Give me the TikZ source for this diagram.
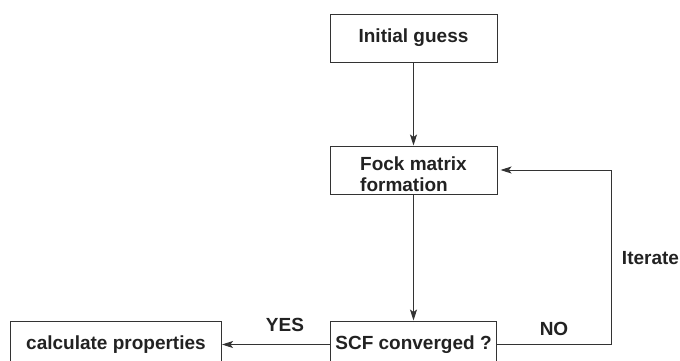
\documentclass[tikz,border=0pt]{standalone}
\usepackage{fontspec}
\setmainfont{Liberation Sans}
\usepackage{xcolor}
\definecolor{lineGray}{HTML}{333333}
\definecolor{textDark}{HTML}{222222}
\usetikzlibrary{arrows.meta, positioning}
\tikzset{
    stepbox/.style={rectangle, draw=lineGray, line width=1pt, minimum height=48pt,
                    inner sep=0pt, text=textDark,
                    font=\fontsize{19}{21}\selectfont\bfseries},
    lbl/.style={text=textDark, inner sep=0pt, font=\fontsize{19}{21}\selectfont\bfseries},
    flow/.style={-{Stealth[length=11pt, width=7pt, inset=2.5pt]}, line width=1pt, lineGray},
}

\begin{document}
\begin{tikzpicture}[x=1pt, y=-1pt]
    \useasboundingbox (0,0) rectangle (680,360);
    \node[stepbox, minimum width=167pt] (init) at (413.5,38) {Initial guess};
    \node[stepbox, minimum width=167pt, below=83pt of init] (fock)
        {\raisebox{-11.5pt}[0pt][0pt]{\begin{tabular}{@{}l@{}}Fock matrix\\formation\end{tabular}}};
    \node[stepbox, minimum width=166pt, minimum height=47pt, below=126pt of fock] (scf) {SCF converged ?};
    \node[stepbox, minimum width=211pt, minimum height=47pt, left=108pt of scf] (calc) {calculate properties};
    % Labels
    \node[lbl] (yes) at (285,325) {YES};
    \node[lbl] (no) at (554,329) {NO};
    \node[lbl] (iter) at (650.5,258) {Iterate};
    \coordinate (loop) at (611,0);
    % Main flow
    \draw[flow] (init) -- (fock);
    \draw[flow] (fock) -- (scf);
    \draw[flow] (scf) -- (calc);
    % Feedback loop
    \draw[flow, shorten >=3pt] (scf.east) -- (scf.east -| loop) |- (fock.east);
\end{tikzpicture}
\end{document}
